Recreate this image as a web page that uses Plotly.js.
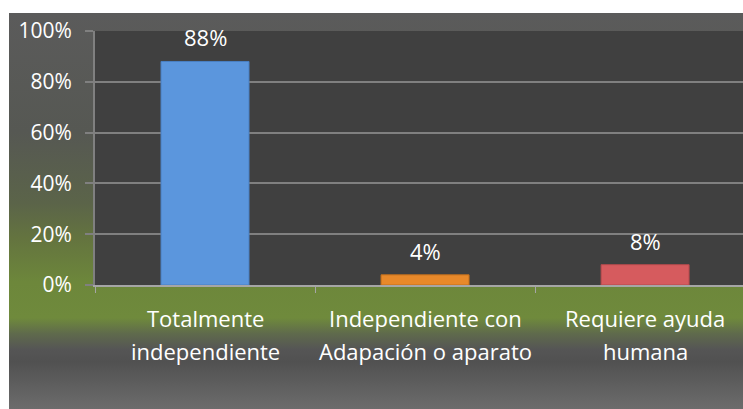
<!DOCTYPE html>
<html>
<head>
<meta charset="utf-8">
<script src="https://cdn.plot.ly/plotly-3.0.1.min.js"></script>
<style>
  html, body { margin: 0; padding: 0; background: #ffffff; }
  #wrap { position: relative; width: 743px; height: 409px; overflow: hidden; background: #ffffff; }
  #bg { position: absolute; left: 9px; top: 13px; width: 734px; height: 396px;
        background: linear-gradient(to bottom,
          #5b5b5b 0%, #565853 30%, #5b6449 48%, #64743f 57%, #6d873b 68%,
          #6f8a3c 77%, #5f6a4c 81%, #555555 85%, #515151 88%, #6c6c6c 100%); }
  #chart { position: absolute; left: 0; top: 0; width: 743px; height: 409px; }
</style>
</head>
<body>
<div id="wrap">
  <div id="bg"></div>
  <div id="chart"></div>
</div>
<script>
// ---- data ----
const categories = ['Totalmente independiente', 'Independiente con Adapación o aparato', 'Requiere ayuda humana'];
const labelLines1 = ['Totalmente', 'Independiente con', 'Requiere ayuda'];
const labelLines2 = ['independiente', 'Adapación o aparato', 'humana'];
const values = [0.88, 0.04, 0.08];
const valueLabels = ['88%', '4%', '8%'];
const yTickVals = [0, 0.2, 0.4, 0.6, 0.8, 1.0];
const yTickText = ['0%', '20%', '40%', '60%', '80%', '100%'];
const barColors = ['#5b96dd', '#e8892a', '#d65b5e'];
const barEdge = ['#4a80c4', '#c26f1c', '#b44a4d'];

const FONT = '"Open Sans", "Noto Sans", sans-serif';

const trace = {
  type: 'bar',
  x: categories,
  y: values,
  width: 0.4,
  marker: { color: barColors, line: { color: barEdge, width: 1 } },
  hoverinfo: 'none'
};

const annotations = [];
categories.forEach((c, i) => {
  annotations.push({ x: c, y: values[i], xref: 'x', yref: 'y', text: valueLabels[i],
    showarrow: false, yanchor: 'middle', yshift: 24,
    font: { family: FONT, size: 22, color: '#ffffff' } });
  annotations.push({ x: c, y: 0, xref: 'x', yref: 'y', text: labelLines1[i],
    showarrow: false, yanchor: 'middle', yshift: -33,
    font: { family: FONT, size: 22, color: '#ffffff' } });
  annotations.push({ x: c, y: 0, xref: 'x', yref: 'y', text: labelLines2[i],
    showarrow: false, yanchor: 'middle', yshift: -66,
    font: { family: FONT, size: 22, color: '#ffffff' } });
});

const layout = {
  width: 743, height: 409,
  margin: { l: 95, r: 0, t: 31, b: 124, pad: 0 },
  paper_bgcolor: 'rgba(0,0,0,0)',
  plot_bgcolor: '#404040',
  showlegend: false,
  font: { family: FONT, color: '#ffffff' },
  xaxis: {
    type: 'category',
    range: [-0.5, 2.445],
    showticklabels: false,
    ticks: 'outside', tickson: 'boundaries', ticklen: 6, tickwidth: 1, tickcolor: '#a6a6a6',
    showline: true, linecolor: '#a6a6a6', linewidth: 2,
    showgrid: false, zeroline: false, fixedrange: true
  },
  yaxis: {
    range: [0, 1.0],
    tickvals: yTickVals, ticktext: yTickText,
    ticks: 'outside', ticklen: 8, tickwidth: 2, tickcolor: '#808080',
    ticklabelstandoff: 9,
    tickfont: { family: FONT, size: 21, color: '#ffffff' },
    showline: true, linecolor: '#808080', linewidth: 2,
    showgrid: true, gridcolor: '#808080', gridwidth: 2,
    zeroline: false, fixedrange: true
  },
  annotations: annotations
};

Plotly.newPlot('chart', [trace], layout, { displayModeBar: false, staticPlot: true });
</script>
</body>
</html>
